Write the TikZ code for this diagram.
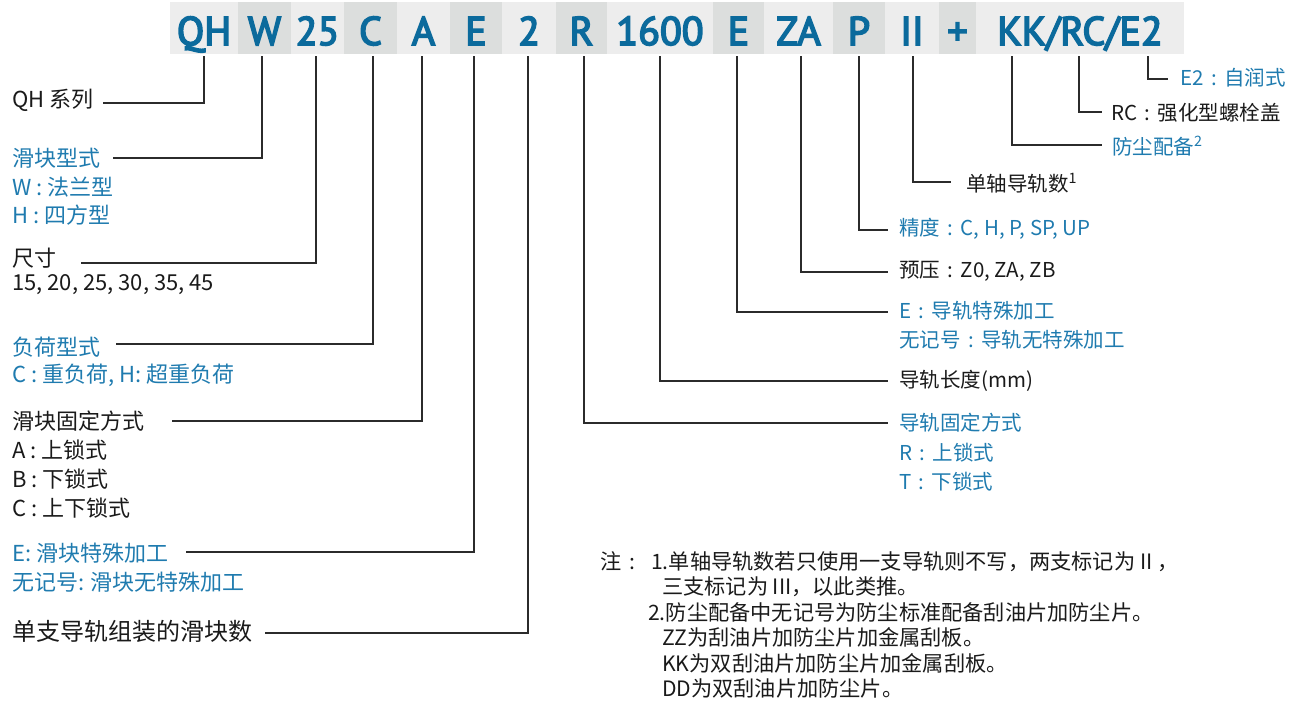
\documentclass[tikz,border=0pt]{standalone}
\usepackage{fontspec}
\setmainfont{Noto Sans CJK SC}
\newfontfamily\hdrfont[FakeBold=4]{PT Sans}
\usepackage{xcolor}
\usepackage{tikz}
\usetikzlibrary{positioning}
\definecolor{Navy}{HTML}{0B6A9C}
\definecolor{Sky}{HTML}{1F7BAF}
\definecolor{Ink}{HTML}{1A1A1A}
\definecolor{Wire}{HTML}{2B2B2B}
\definecolor{CellL}{HTML}{EDEDED}
\definecolor{CellD}{HTML}{DCDEDD}
\newcommand\cn{\makebox[1em]{:}}

\begin{document}
\begin{tikzpicture}[x=1pt,y=-1pt,
  code/.style={font=\hdrfont\fontsize{40}{40}\selectfont,text=Navy,anchor=base,inner sep=0pt},
  lbl/.style={font=\fontsize{22}{22}\selectfont,anchor=west,inner sep=0pt,text=Ink},
  rlbl/.style={font=\fontsize{20.5}{20.5}\selectfont,anchor=west,inner sep=0pt,text=Ink},
  note/.style={font=\fontsize{21.2}{21.2}\selectfont,anchor=base west,inner sep=0pt,text=Ink},
  wire/.style={Wire,line width=1.4pt}]
  \useasboundingbox (0,0) rectangle (1295,702);
  % model code bar
  \foreach \nm/\xa/\xb/\shade/\txt in {QH/170/238/CellL/QH, W/238/291/CellD/W,
      sz/291/344/CellL/25, ld/344/397/CellD/C, fix/397/450/CellL/A,
      blk/450/502/CellD/E, num/502/556/CellL/2, rfix/556/607/CellD/R,
      len/607/713/CellL/1600, rail/713/764/CellD/E, pre/764/833/CellL/ZA,
      acc/833/885/CellD/P, axis/885/939/CellL/II, plus/939/976/CellD/+} {
    \fill[\shade] (\xa,2) rectangle (\xb,54);
    \node[code] (c\nm) at ({(\xa+\xb)/2},45) {\txt};
  }
  \fill[CellL] (976,2) rectangle (1184,54);
  \node[code] (copt) at (1080,45) {KK/RC/E2};
  \foreach \nm/\xt in {QH/204, W/262, sz/316, ld/373, fix/422, blk/474, num/528,
      rfix/584, len/660, rail/737, pre/801, acc/859, axis/913, KK/1012, RC/1079, E2/1148}
    \coordinate (t\nm) at (\xt,56);

  % left side
  \node[lbl] (lQH) at (12,100) {QH 系列};
  \node[lbl,text=Sky] (lW) at (12,158) {滑块型式};
  \node[lbl,text=Sky] (lW1) at (12,187) {W : 法兰型};
  \node[lbl,text=Sky] (lW2) at (12,215) {H : 四方型};
  \node[lbl] (lsz) at (12,258) {尺寸};
  \node[lbl] (lsz1) at (12,285) {15, 20, 25, 30, 35, 45};
  \node[lbl,text=Sky] (lld) at (12,347) {负荷型式};
  \node[lbl,text=Sky] (lld1) at (12,375) {C : 重负荷, H: 超重负荷};
  \node[lbl] (lfix) at (12,421) {滑块固定方式};
  \node[lbl] (lfix1) at (12,450) {A : 上锁式};
  \node[lbl] (lfix2) at (12,479) {B : 下锁式};
  \node[lbl] (lfix3) at (12,508) {C : 上下锁式};
  \node[lbl,text=Sky] (lblk) at (12,553) {E: 滑块特殊加工};
  \node[lbl,text=Sky] (lblk1) at (12,582) {无记号: 滑块无特殊加工};
  \node[lbl,font=\fontsize{24}{24}\selectfont] (lnum) at (12,631) {单支导轨组装的滑块数};
  \foreach \nm/\ly/\lx in {QH/103/103, W/158/113, sz/263/81, ld/344/116,
      fix/421/172, blk/552/186, num/633/265} {
    \coordinate (e\nm) at (\lx,\ly);
    \draw[wire] (e\nm) -| (t\nm);
  }

  % right side
  \node[rlbl,text=Sky] (lE2) at (1180,78) {E2\cn 自润式};
  \node[rlbl] (lRC) at (1111,113) {RC\cn 强化型螺栓盖};
  \node[rlbl,text=Sky] (lKK) at (1112,146) {防尘配备\textsuperscript{2}};
  \node[rlbl] (laxis) at (966,183) {单轴导轨数\textsuperscript{1}};
  \node[rlbl,text=Sky] (lacc) at (899,229) {精度\cn C, H, P, SP, UP};
  \node[rlbl] (lpre) at (899,271) {预压\cn Z0, ZA, ZB};
  \node[rlbl,text=Sky] (lrail) at (899,311) {E\cn 导轨特殊加工};
  \node[rlbl,text=Sky] (lrail1) at (899,340) {无记号\cn 导轨无特殊加工};
  \node[rlbl] (llen) at (899,381) {导轨长度(mm)};
  \node[rlbl,text=Sky] (lrfix) at (899,423) {导轨固定方式};
  \node[rlbl,text=Sky] (lrfix1) at (899,453) {R\cn 上锁式};
  \node[rlbl,text=Sky] (lrfix2) at (899,482) {T\cn 下锁式};
  \foreach \nm/\ly/\lx in {rfix/423/888, len/381/888, rail/312/888, pre/272/888,
      acc/230/888, axis/182/951, KK/145/1102, RC/112/1102, E2/79/1168} {
    \coordinate (e\nm) at (\lx,\ly);
    \draw[wire] (t\nm) |- (e\nm);
  }

  % notes
  \node[note] (n0) at (600,569) {注\cn};
  \node[note] (n1) at (651,569) {1.单轴导轨数若只使用一支导轨则不写，两支标记为 II ，};
  \node[note] (n2) at (662,594) {三支标记为 III，以此类推。};
  \node[note] (n3) at (648,620) {2.防尘配备中无记号为防尘标准配备刮油片加防尘片。};
  \node[note] (n4) at (662,645) {ZZ为刮油片加防尘片加金属刮板。};
  \node[note] (n5) at (662,671) {KK为双刮油片加防尘片加金属刮板。};
  \node[note] (n6) at (662,696) {DD为双刮油片加防尘片。};
\end{tikzpicture}
\end{document}
